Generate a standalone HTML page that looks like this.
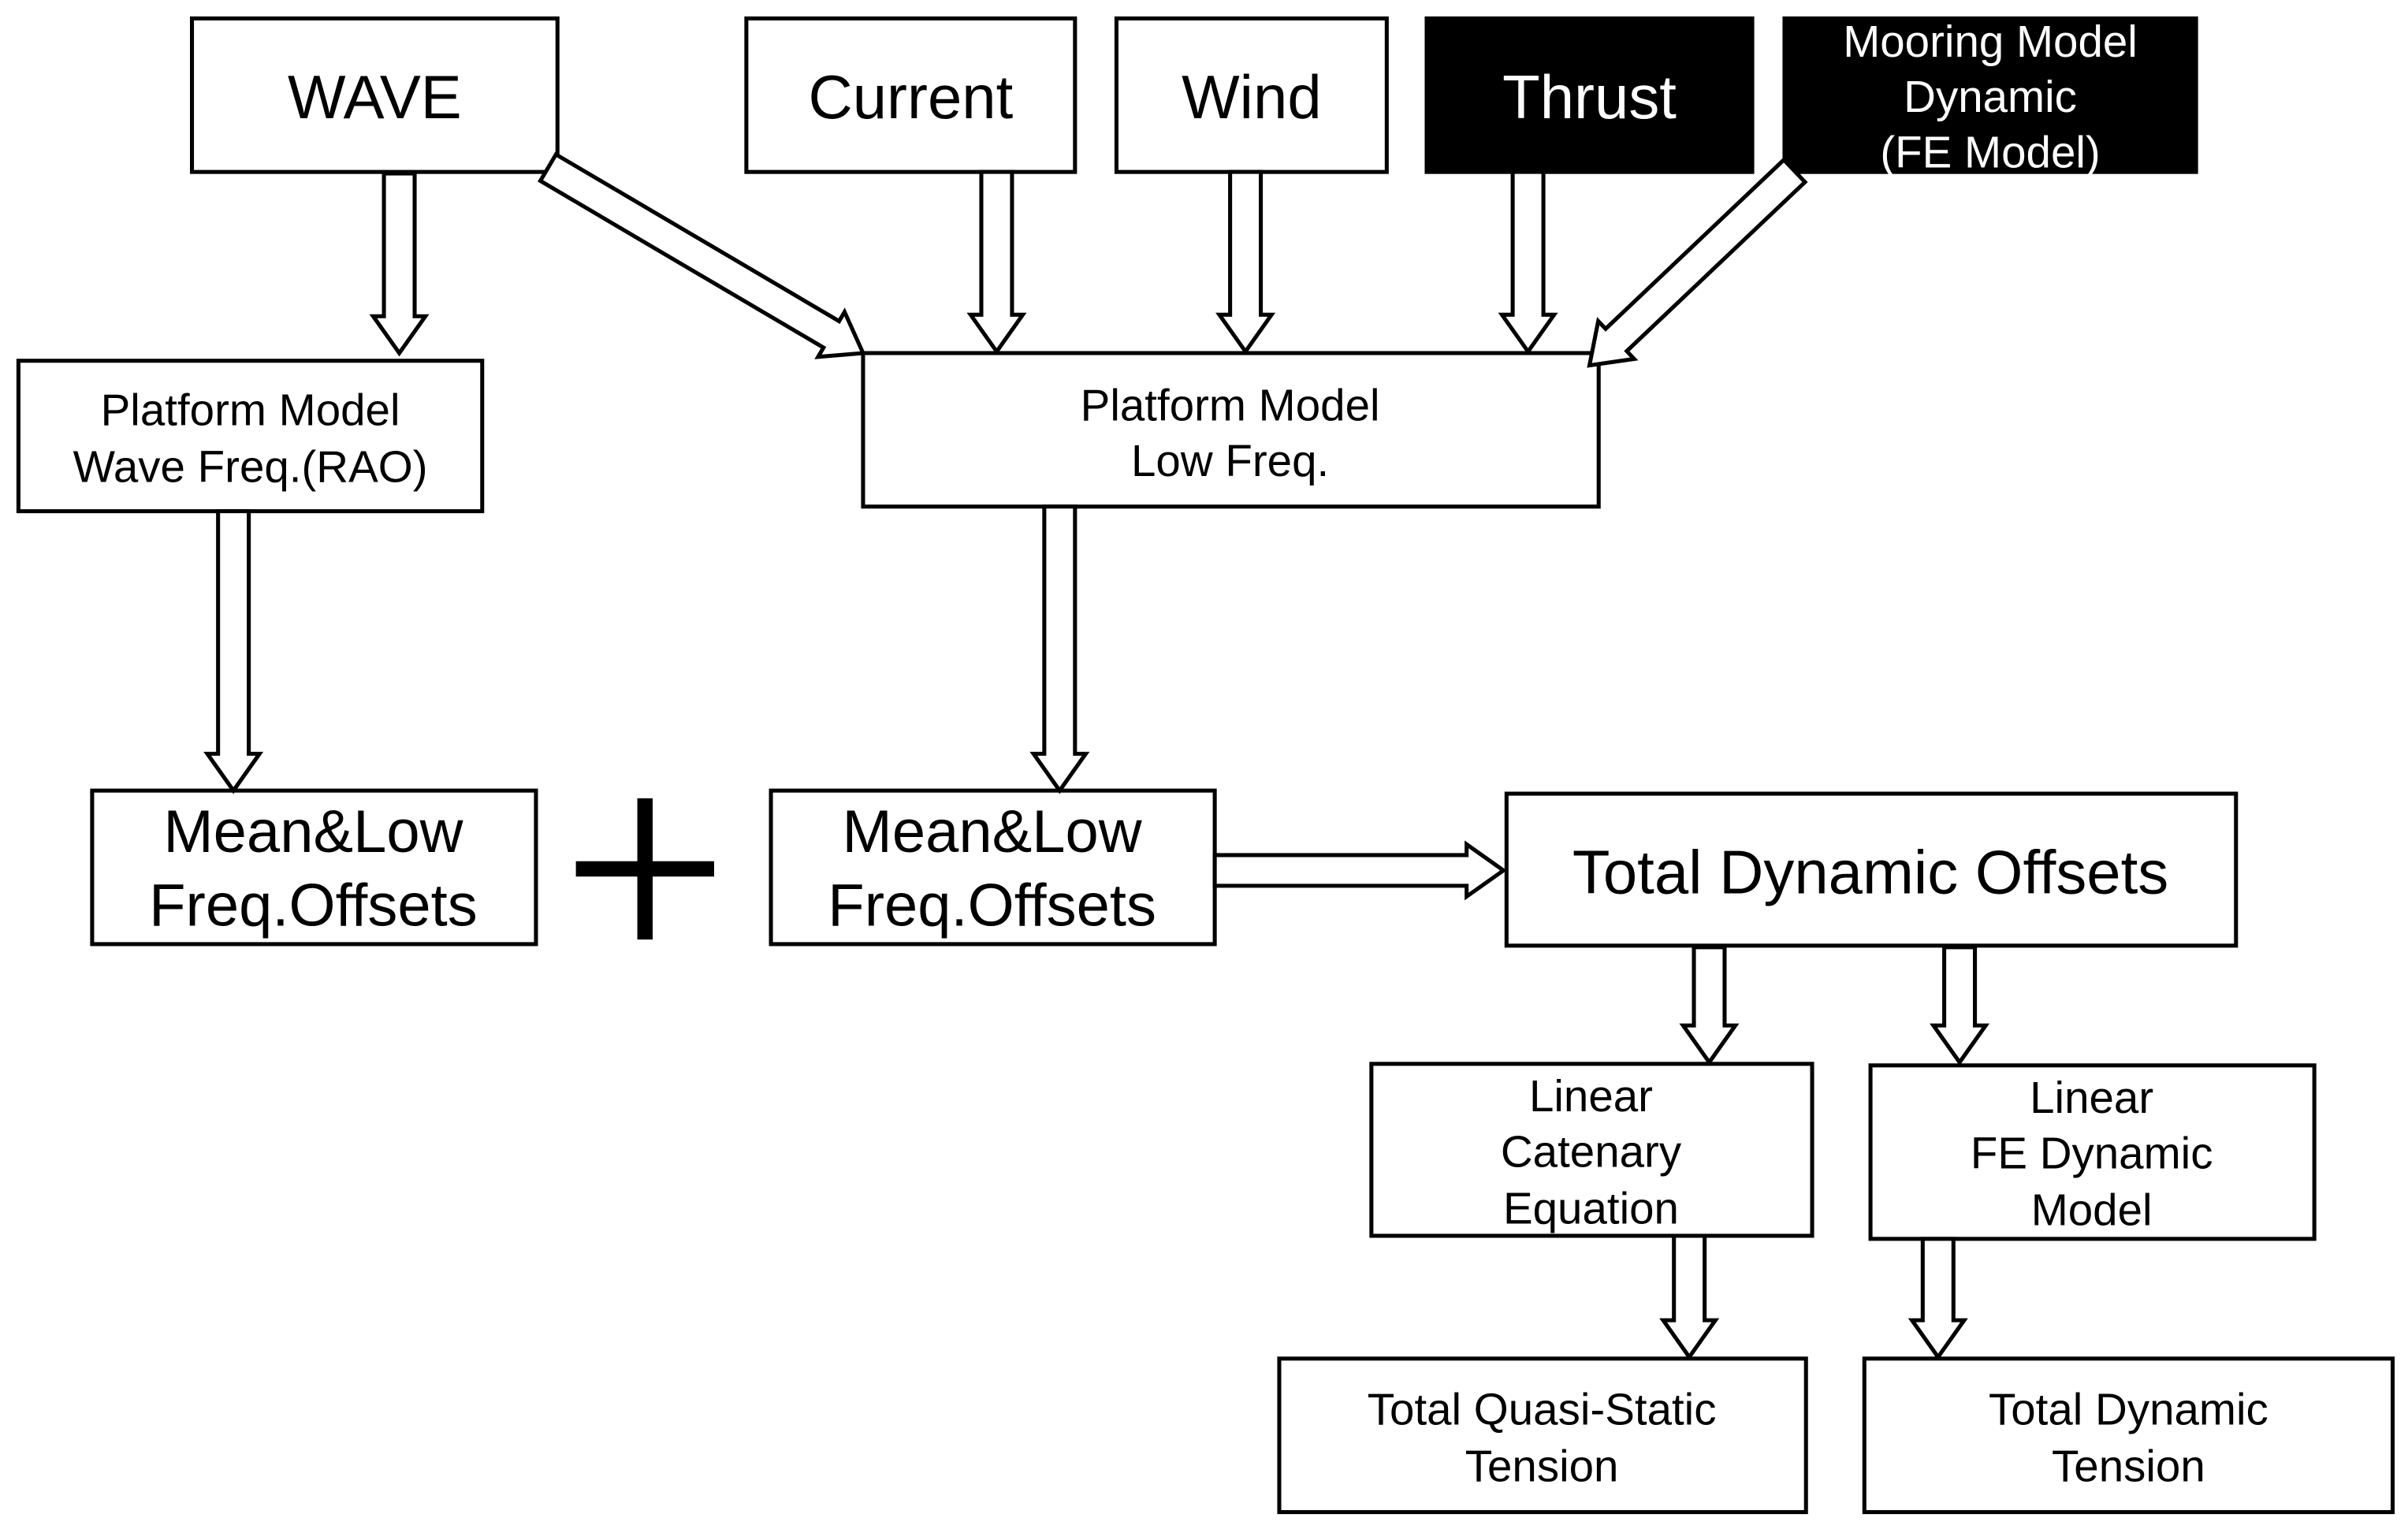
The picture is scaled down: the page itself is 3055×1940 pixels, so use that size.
<!DOCTYPE html>
<html><head><meta charset="utf-8"><style>
html,body{margin:0;padding:0;background:#fff;}
svg{display:block;}
text{font-family:"Liberation Sans Narrow","Liberation Sans",sans-serif;text-anchor:middle;fill:#000;}
.b{fill:#fff;stroke:#000;stroke-width:2.6;}
.k{fill:#000;stroke:#000;stroke-width:2.6;}
.a{fill:#fff;stroke:#000;stroke-width:2.6;stroke-linejoin:miter;}
</style></head><body>
<svg width="3055" height="1940" viewBox="0 0 1568 996" preserveAspectRatio="none" xmlns="http://www.w3.org/2000/svg">
<defs>
<polygon id="ar" class="a" points="0,-10 -24,-10 -24,-17 0,0 -24,17 -24,10"/>
</defs>
<!-- boxes -->
<rect class="b" x="125" y="12" width="238" height="100"/>
<text x="244" y="77" font-size="40">WAVE</text>
<rect class="b" x="486" y="12" width="214" height="100"/>
<text x="593" y="77" font-size="40">Current</text>
<rect class="b" x="727" y="12" width="176" height="100"/>
<text x="815" y="77" font-size="40">Wind</text>
<rect class="k" x="929" y="12" width="212" height="100"/>
<text x="1035" y="77" font-size="40" style="fill:#fff">Thrust</text>
<rect class="k" x="1162" y="12" width="268" height="100"/>
<text x="1296" y="37" font-size="29" style="fill:#fff">Mooring Model</text>
<text x="1296" y="73" font-size="29" style="fill:#fff">Dynamic</text>
<text x="1296" y="109" font-size="29" style="fill:#fff">(FE Model)</text>

<rect class="b" x="12" y="235" width="302" height="98"/>
<text x="163" y="277" font-size="29">Platform Model</text>
<text x="163" y="314" font-size="29">Wave Freq.(RAO)</text>
<rect class="b" x="562" y="230" width="479" height="100"/>
<text x="801" y="274" font-size="29">Platform Model</text>
<text x="801" y="310" font-size="29">Low Freq.</text>

<rect class="b" x="60" y="515" width="289" height="100"/>
<text x="204" y="555" font-size="39">Mean&amp;Low</text>
<text x="204" y="603" font-size="39">Freq.Offsets</text>
<rect x="375" y="561" width="90" height="10" fill="#000"/>
<rect x="415" y="520" width="10" height="92" fill="#000"/>
<rect class="b" x="502" y="515" width="289" height="100"/>
<text x="646" y="555" font-size="39">Mean&amp;Low</text>
<text x="646" y="603" font-size="39">Freq.Offsets</text>
<rect class="b" x="981" y="517" width="475" height="99"/>
<text x="1218" y="582" font-size="40">Total Dynamic Offsets</text>

<rect class="b" x="893" y="693" width="287" height="112"/>
<text x="1036" y="724" font-size="29">Linear</text>
<text x="1036" y="760" font-size="29">Catenary</text>
<text x="1036" y="797" font-size="29">Equation</text>
<rect class="b" x="1218" y="694" width="289" height="113"/>
<text x="1362" y="725" font-size="29">Linear</text>
<text x="1362" y="761" font-size="29">FE Dynamic</text>
<text x="1362" y="798" font-size="29">Model</text>

<rect class="b" x="833" y="885" width="343" height="100"/>
<text x="1004" y="928" font-size="29">Total Quasi-Static</text>
<text x="1004" y="965" font-size="29">Tension</text>
<rect class="b" x="1214" y="885" width="344" height="100"/>
<text x="1386" y="928" font-size="29">Total Dynamic</text>
<text x="1386" y="965" font-size="29">Tension</text>

<!-- arrows: tip at translate point, pointing along rotation -->
<g transform="translate(260,230) rotate(90)"><polygon class="a" points="0,0 -24,-17 -24,-10 -117,-10 -117,10 -24,10 -24,17"/></g>
<g transform="translate(649,229) rotate(90)"><polygon class="a" points="0,0 -24,-17 -24,-10 -117,-10 -117,10 -24,10 -24,17"/></g>
<g transform="translate(811,229) rotate(90)"><polygon class="a" points="0,0 -24,-17 -24,-10 -117,-10 -117,10 -24,10 -24,17"/></g>
<g transform="translate(995,229) rotate(90)"><polygon class="a" points="0,0 -24,-17 -24,-10 -117,-10 -117,10 -24,10 -24,17"/></g>
<g transform="translate(562,230) rotate(30.5)"><polygon class="a" points="0,0 -24,-17 -24,-10 -238,-10 -238,10 -24,10 -24,17"/></g>
<g transform="translate(1035,238) rotate(136.5)"><polygon class="a" points="0,0 -24,-17 -24,-10 -184,-10 -184,10 -24,10 -24,17"/></g>
<g transform="translate(152,515) rotate(90)"><polygon class="a" points="0,0 -24,-17 -24,-10 -182,-10 -182,10 -24,10 -24,17"/></g>
<g transform="translate(690,515) rotate(90)"><polygon class="a" points="0,0 -24,-17 -24,-10 -185,-10 -185,10 -24,10 -24,17"/></g>
<g transform="translate(979,567) rotate(0)"><polygon class="a" points="0,0 -24,-17 -24,-10 -188,-10 -188,10 -24,10 -24,17"/></g>
<g transform="translate(1113,692) rotate(90)"><polygon class="a" points="0,0 -24,-17 -24,-10 -75,-10 -75,10 -24,10 -24,17"/></g>
<g transform="translate(1276,692) rotate(90)"><polygon class="a" points="0,0 -24,-17 -24,-10 -75,-10 -75,10 -24,10 -24,17"/></g>
<g transform="translate(1100,884) rotate(90)"><polygon class="a" points="0,0 -24,-17 -24,-10 -79,-10 -79,10 -24,10 -24,17"/></g>
<g transform="translate(1262,884) rotate(90)"><polygon class="a" points="0,0 -24,-17 -24,-10 -77,-10 -77,10 -24,10 -24,17"/></g>
</svg>
</body></html>
